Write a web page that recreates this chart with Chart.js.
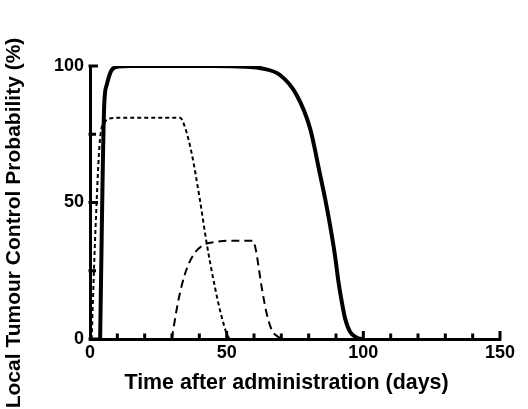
<!DOCTYPE html>
<html>
<head>
<meta charset="utf-8">
<script src="https://cdn.jsdelivr.net/npm/chart.js@4/dist/chart.umd.min.js"></script>
<style>
html,body{margin:0;padding:0;background:#fff;}
canvas{display:block;}
</style>
</head>
<body>
<canvas id="c" width="528" height="409"></canvas>
<script>
// ---- data ----
const solidDays  = [3.7, 5.2, 6.1, 7.9, 10.4, 15, 30, 45, 57, 63, 69.5, 75.6, 80.5, 84.2, 86, 87.8, 89.6, 90.9, 92.1, 93.3, 95.1, 97.6, 99.5];
const solidTcp   = [0, 85.7, 93, 98.5, 99.8, 100, 100, 100, 99.7, 99.1, 96.7, 89.4, 77.2, 60.1, 51.5, 41.8, 30.8, 21, 13.7, 7.6, 2.7, 0.5, 0];
const dottedDays = [0.6, 2.0, 3.7, 5.5, 7, 10, 20, 33, 34.6, 37.2, 40.2, 42.7, 45.7, 48.2, 50, 51];
const dottedTcp  = [0, 40, 73.6, 79.6, 80.7, 81, 81, 81, 78, 68, 51, 35, 19, 8, 2, 0];
const dashedDays = [29.9, 32.3, 34.8, 37.8, 41.5, 46.3, 50, 59.6, 60.6, 62.8, 64.6, 66.5, 68.8, 70];
const dashedTcp  = [0, 14, 24, 30.8, 34.4, 35.6, 36, 36, 33, 19, 9.5, 3.3, 0.8, 0];
const xTickValues = [0, 50, 100, 150];
const yTickValues = [0, 50, 100];
const xTitle = 'Time after administration (days)';
const yTitle = 'Local Tumour Control Probability (%)';

const FONT = '"Liberation Sans", Arial, Helvetica, sans-serif';
const pts = (xs, ys) => xs.map((x, i) => ({x: x, y: ys[i]}));

// inward tick marks + axis titles
const prismAxes = {
  id: 'prismAxes',
  afterDraw(chart) {
    const ctx = chart.ctx, xs = chart.scales.x, ys = chart.scales.y;
    const a = chart.chartArea;
    ctx.save();
    ctx.strokeStyle = '#000';
    ctx.lineWidth = 3;
    ctx.lineCap = 'butt';
    for (let v = 0; v <= 100; v += 25) {
      const py = ys.getPixelForValue(v);
      const len = (v % 50 === 0) ? 8 : 6;
      ctx.beginPath(); ctx.moveTo(a.left - 1.5, py); ctx.lineTo(a.left + len, py); ctx.stroke();
    }
    for (let v = 10; v <= 150; v += 10) {
      const px = xs.getPixelForValue(v);
      const len = (v % 50 === 0) ? 8 : 5.5;
      ctx.beginPath(); ctx.moveTo(px, a.bottom + 1.5); ctx.lineTo(px, a.bottom - len); ctx.stroke();
    }
    ctx.fillStyle = '#000';
    ctx.textAlign = 'center';
    ctx.textBaseline = 'middle';
    ctx.font = 'bold 21.4px ' + FONT;
    ctx.fillText(xTitle, 286.5, 383);
    ctx.font = 'bold 21px ' + FONT;
    ctx.translate(14, 223);
    ctx.rotate(-Math.PI / 2);
    ctx.fillText(yTitle, 0, 0);
    ctx.restore();
  }
};

new Chart(document.getElementById('c'), {
  type: 'line',
  data: {
    datasets: [
      {label: 'solid', data: pts(solidDays, solidTcp), borderColor: '#000', borderWidth: 4,
       pointRadius: 0, cubicInterpolationMode: 'monotone', fill: false},
      {label: 'dotted', data: pts(dottedDays, dottedTcp), borderColor: '#000', borderWidth: 2,
       borderDash: [4, 3], pointRadius: 0, cubicInterpolationMode: 'monotone', fill: false},
      {label: 'dashed', data: pts(dashedDays, dashedTcp), borderColor: '#000', borderWidth: 2,
       borderDash: [8, 5], pointRadius: 0, cubicInterpolationMode: 'monotone', fill: false}
    ]
  },
  options: {
    responsive: false,
    animation: false,
    devicePixelRatio: 1,
    layout: {padding: {top: 66, right: 28, left: 0, bottom: 0}},
    plugins: {legend: {display: false}, tooltip: {enabled: false}},
    scales: {
      x: {
        type: 'linear', min: 0, max: 150,
        afterBuildTicks: s => { s.ticks = xTickValues.map(v => ({value: v})); },
        afterFit: s => { s.height = 70; },
        grid: {display: false, drawTicks: false},
        border: {display: true, color: '#000', width: 3},
        ticks: {color: '#000', padding: 3, maxRotation: 0, font: {family: FONT, size: 18, weight: 'bold'}},
        title: {display: false}
      },
      y: {
        type: 'linear', min: 0, max: 100,
        afterBuildTicks: s => { s.ticks = yTickValues.map(v => ({value: v})); },
        afterFit: s => { s.width = 90; },
        grid: {display: false, drawTicks: false},
        border: {display: true, color: '#000', width: 3},
        ticks: {color: '#000', padding: 6, font: {family: FONT, size: 18, weight: 'bold'}},
        title: {display: false}
      }
    }
  },
  plugins: [prismAxes]
});
</script>
</body>
</html>
